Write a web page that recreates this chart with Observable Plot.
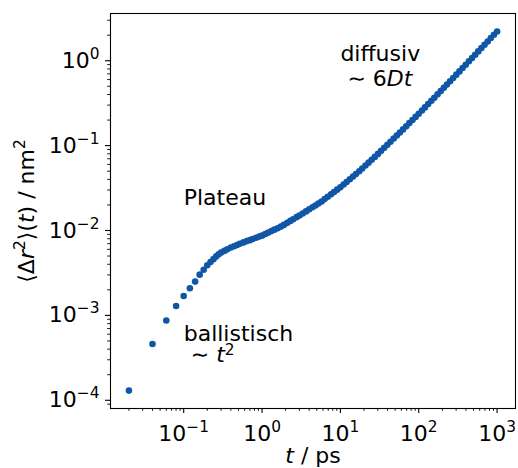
<!DOCTYPE html>
<html><head><meta charset="utf-8">
<script src="https://cdn.jsdelivr.net/npm/d3@7"></script>
<script src="https://cdn.jsdelivr.net/npm/@observablehq/plot@0.6"></script>
<style>body{margin:0;background:#fff} svg{display:block}</style>
</head><body><div id="chart"></div>
<script>
// time lag t / ps
const tVals = [
  0.02, 0.04, 0.06, 0.08, 0.10, 0.12, 0.14, 0.16, 0.18, 0.20, 0.22, 0.24, 0.26, 0.28,
  0.30, 0.33, 0.36, 0.40, 0.44, 0.48, 0.52, 0.58, 0.64, 0.70, 0.76, 0.84, 0.92, 1.0,
  1.1, 1.2, 1.32, 1.44, 1.58, 1.74, 1.9, 2.1, 2.3, 2.5, 2.76, 3.0, 3.3, 3.64, 4.0,
  4.4, 4.8, 5.24, 5.76, 6.3, 6.9, 7.6, 8.3, 9.1, 10,
  11, 12, 13.2, 14.5, 15.8, 17.4, 19, 20.9, 22.9, 25.1, 27.5, 30.2, 33.1, 36.3, 39.8,
  43.6, 47.9, 52.5, 57.5, 63.1, 69.2, 75.9, 83.2, 91.2, 100,
  110, 120, 132, 145, 158, 174, 191, 209, 229, 251, 275, 302, 331, 363, 398,
  437, 479, 525, 575, 631, 692, 759, 832, 912, 1000
];
// mean squared displacement / nm^2
const msdVals = [
  1.30e-4, 4.6e-4, 8.7e-4, 1.29e-3, 1.69e-3, 2.09e-3, 2.5e-3, 3.02e-3, 3.45e-3, 3.9e-3, 4.25e-3, 4.6e-3, 4.95e-3, 5.25e-3,
  5.5e-3, 5.75e-3, 6.0e-3, 6.3e-3, 6.53e-3, 6.76e-3, 6.97e-3, 7.24e-3, 7.5e-3, 7.7e-3, 7.94e-3, 8.2e-3, 8.47e-3, 8.7e-3,
  9.08e-3, 9.44e-3, 9.84e-3, 1.023e-2, 1.065e-2, 1.112e-2, 1.164e-2, 1.231e-2, 1.297e-2, 1.358e-2, 1.436e-2, 1.503e-2, 1.589e-2, 1.679e-2, 1.775e-2,
  1.875e-2, 1.972e-2, 2.075e-2, 2.198e-2, 2.344e-2, 2.495e-2, 2.673e-2, 2.838e-2, 3.027e-2, 3.236e-2,
  3.483e-2, 3.733e-2, 4.018e-2, 4.325e-2, 4.624e-2, 4.989e-2, 5.37e-2, 5.82e-2, 6.30e-2, 6.81e-2, 7.36e-2, 7.99e-2, 8.67e-2, 9.42e-2, 0.1023,
  0.1112, 0.1211, 0.1315, 0.1426, 0.1552, 0.1690, 0.1841, 0.2004, 0.2178, 0.2371,
  0.2597, 0.2818, 0.309, 0.338, 0.3664, 0.4018, 0.4395, 0.4797, 0.5236, 0.5728, 0.6252, 0.6855, 0.7482, 0.8204, 0.8974,
  0.984, 1.076, 1.178, 1.288, 1.409, 1.542, 1.687, 1.849, 2.023, 2.213
];

const xDomain = [0.01164, 1718];
const yDomain = [8.0e-5, 3.6];

const xMajor = [0.1, 1, 10, 100, 1000];
const xTickLabels = ["10^−1", "10^0", "10^1", "10^2", "10^3"];
const yMajor = [1e-4, 1e-3, 1e-2, 1e-1, 1];
const yTickLabels = ["10^−4", "10^−3", "10^−2", "10^−1", "10^0"];
const xMinor = [0.02,0.03,0.04,0.05,0.06,0.07,0.08,0.09, 0.2,0.3,0.4,0.5,0.6,0.7,0.8,0.9,
  2,3,4,5,6,7,8,9, 20,30,40,50,60,70,80,90, 200,300,400,500,600,700,800,900];
const yMinor = [9e-5, 2e-4,3e-4,4e-4,5e-4,6e-4,7e-4,8e-4,9e-4, 2e-3,3e-3,4e-3,5e-3,6e-3,7e-3,8e-3,9e-3,
  2e-2,3e-2,4e-2,5e-2,6e-2,7e-2,8e-2,9e-2, 0.2,0.3,0.4,0.5,0.6,0.7,0.8,0.9, 2,3];

const annoTexts = ["Plateau", "ballistisch", "∼ t^2", "diffusiv", "∼ 6Dt"];
const annoT = [0.1, 0.1, 0.123, 10, 12.3];
const annoY = [0.02, 5e-4, 2.85e-4, 1.0, 0.5];

const xLabel = "t / ps";
const yLabel = "⟨Δr^2⟩(t) / nm^2";

const richSpecs = {
  "∼ t^2": [["∼ ", ""], ["t", "i"], ["2", "s7"]],
  "∼ 6Dt": [["∼ 6", ""], ["Dt", "i"]],
  "t / ps": [["t", "i"], [" / ps", ""]],
  "⟨Δr^2⟩(t) / nm^2": [["⟨Δ", ""], ["r", "i"], ["2", "s"], ["⟩(", ""], ["t", "i"], [") / nm", ""], ["2", "s"]]
};

const data = tVals.map((t, i) => ({t, msd: msdVals[i]}));
const annos = annoTexts.map((s, i) => ({s, t: annoT[i], y: annoY[i]}));
const dotColor = "#0f57a6";

const svg = Plot.plot({
  width: 518, height: 468,
  marginLeft: 110, marginRight: 3, marginTop: 13, marginBottom: 60,
  style: {fontFamily: "DejaVu Sans", fontSize: "22px", color: "#000", background: "#fff"},
  x: {type: "log", domain: xDomain},
  y: {type: "log", domain: yDomain},
  marks: [
    Plot.axisX(xMinor, {tickSize: 2.8, strokeWidth: 0.9, tickFormat: () => "", label: null}),
    Plot.axisY(yMinor, {tickSize: 2.8, strokeWidth: 0.9, tickFormat: () => "", label: null}),
    Plot.axisX(xMajor, {tickSize: 5, tickPadding: 12, strokeWidth: 1.1, fontSize: 22,
      tickFormat: d => xTickLabels[xMajor.indexOf(d)], label: null}),
    Plot.axisY(yMajor, {tickSize: 5, tickPadding: 6, strokeWidth: 1.1, fontSize: 22,
      tickFormat: d => yTickLabels[yMajor.indexOf(d)], label: null}),
    Plot.frame({stroke: "#000", strokeWidth: 1.1}),
    Plot.dot(data, {x: "t", y: "msd", r: 3.3, fill: dotColor, stroke: null}),
    Plot.text(annos, {x: "t", y: "y", text: "s", textAnchor: "start", lineAnchor: "bottom", fontSize: 22, fill: "#000"}),
    Plot.text([xLabel], {text: d => d, frameAnchor: "bottom", dy: 54, textAnchor: "middle", lineAnchor: "bottom", fontSize: 22, fill: "#000"}),
    Plot.text([yLabel], {text: d => d, frameAnchor: "left", dx: -77, rotate: -90, textAnchor: "middle", lineAnchor: "bottom", fontSize: 22, fill: "#000"})
  ]
});

const NS = "http://www.w3.org/2000/svg";
function richify(el, segs) {
  el.textContent = "";
  el.style.whiteSpace = "pre";
  let raised = 0;
  for (const [s, st] of segs) {
    const ts = document.createElementNS(NS, "tspan");
    ts.textContent = s;
    if (st.includes("i")) ts.setAttribute("font-style", "italic");
    const sup = st.includes("s");
    if (sup) {
      ts.setAttribute("font-size", "15.4");
      const shift = st.includes("7") ? 7 : 9;
      if (!raised) { ts.setAttribute("dy", String(-shift)); raised = shift; }
    } else if (raised) {
      ts.setAttribute("dy", String(raised)); raised = 0;
    }
    el.appendChild(ts);
  }
}
d3.select(svg).selectAll("text").each(function () {
  const s = this.textContent;
  if (richSpecs[s]) { richify(this, richSpecs[s]); return; }
  const m = /^10\^(.+)$/.exec(s);
  if (m) richify(this, [["10", ""], [m[1], "s"]]);
});

document.getElementById("chart").appendChild(svg);
</script></body></html>
